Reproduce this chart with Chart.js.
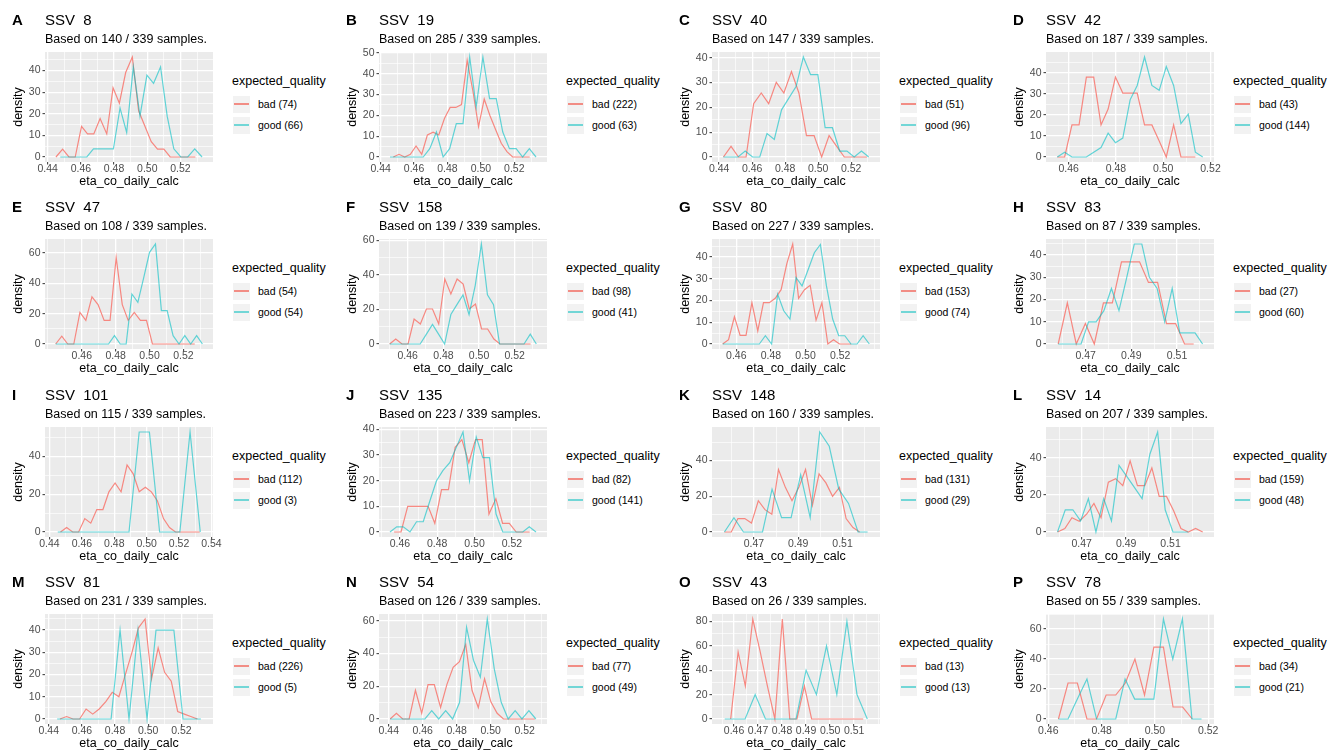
<!DOCTYPE html>
<html><head><meta charset="utf-8">
<script src="https://cdn.jsdelivr.net/npm/chart.js@4.4.1/dist/chart.umd.min.js"></script>
<style>
html,body{margin:0;padding:0;background:#fff;}
#root{position:relative;width:1328px;height:750px;overflow:hidden;font-family:'Liberation Sans',Arial,Helvetica,sans-serif;color:#000;}
.t{position:absolute;white-space:pre;line-height:1;}
canvas{position:absolute;}
.key{position:absolute;background:#F2F2F2;}
.kl{position:absolute;height:1.5px;}
</style></head><body><div id="root"></div>
<script>
// ---------- panel meta ----------
const tags = ['A','B','C','D','E','F','G','H','I','J','K','L','M','N','O','P'];
const ssvIds = ['8','19','40','42','47','158','80','83','101','135','148','14','81','54','43','78'];
const sampleCounts = [140,285,147,187,108,139,227,87,115,223,160,207,231,126,26,55];
const totalSamples = 339;
const badCounts = [74,222,51,43,54,98,153,27,112,82,131,159,226,77,13,34];
const goodCounts = [66,63,96,144,54,41,74,60,3,141,29,48,5,49,13,21];

// ---------- tick labels ----------
const xTicksA=[0.44,0.46,0.48,0.50,0.52], yTicksA=[0,10,20,30,40];
const xTicksB=[0.44,0.46,0.48,0.50,0.52], yTicksB=[0,10,20,30,40,50];
const xTicksC=[0.44,0.46,0.48,0.50,0.52], yTicksC=[0,10,20,30,40];
const xTicksD=[0.46,0.48,0.50,0.52], yTicksD=[0,10,20,30,40];
const xTicksE=[0.46,0.48,0.50,0.52], yTicksE=[0,20,40,60];
const xTicksF=[0.46,0.48,0.50,0.52], yTicksF=[0,20,40,60];
const xTicksG=[0.46,0.48,0.50,0.52], yTicksG=[0,10,20,30,40];
const xTicksH=[0.47,0.49,0.51], yTicksH=[0,10,20,30,40];
const xTicksI=[0.44,0.46,0.48,0.50,0.52,0.54], yTicksI=[0,20,40];
const xTicksJ=[0.46,0.48,0.50,0.52], yTicksJ=[0,10,20,30,40];
const xTicksK=[0.47,0.49,0.51], yTicksK=[0,20,40];
const xTicksL=[0.47,0.49,0.51], yTicksL=[0,20,40];
const xTicksM=[0.44,0.46,0.48,0.50,0.52], yTicksM=[0,10,20,30,40];
const xTicksN=[0.44,0.46,0.48,0.50,0.52], yTicksN=[0,20,40,60];
const xTicksO=[0.46,0.47,0.48,0.49,0.50,0.51], yTicksO=[0,20,40,60,80];
const xTicksP=[0.46,0.48,0.50,0.52], yTicksP=[0,20,40,60];

// ---------- series (x = eta_co_daily_calc, y = density) ----------
const xBadA=[0.4450,0.4490,0.4528,0.4566,0.4604,0.4640,0.4678,0.4716,0.4756,0.4794,0.4832,0.4870,0.4910,0.4948,0.4986,0.5024,0.5062,0.5100,0.5138,0.5176,0.5214,0.5252,0.5290];
const badA=[0,3.6,0,0,14.2,10.7,10.7,17.8,10.7,32,24.9,39.1,46.3,21.4,14.2,7.1,3.6,3.6,0,0,0,0,0];
const xGoodA=[0.4476,0.4516,0.4556,0.4596,0.4636,0.4676,0.4716,0.4756,0.4796,0.4836,0.4876,0.4916,0.4956,0.4998,0.5038,0.5080,0.5120,0.5160,0.5202,0.5244,0.5286,0.5330];
const goodA=[0,0,0,0,0,3.8,3.8,3.8,3.8,22.7,11.4,41.7,18.9,37.9,34.1,41.7,18.9,3.8,0,0,3.8,0];

const xBadB=[0.4476,0.4510,0.4544,0.4578,0.4612,0.4646,0.4680,0.4714,0.4748,0.4782,0.4816,0.4850,0.4884,0.4918,0.4952,0.4986,0.5020,0.5054,0.5088,0.5122,0.5156,0.5190,0.5224,0.5258,0.5292];
const badB=[0,1.3,0,1.3,5.3,1.3,10.6,11.9,10.6,18.5,23.8,23.8,25.2,46.4,31.8,14.6,27.8,19.9,13.2,6.6,2.6,0,0,0,0];
const xGoodB=[0.4456,0.4496,0.4535,0.4575,0.4615,0.4655,0.4694,0.4734,0.4774,0.4813,0.4853,0.4893,0.4933,0.4972,0.5012,0.5052,0.5092,0.5131,0.5171,0.5211,0.5250,0.5290,0.5330];
const goodB=[0,0,0,0,0,0,4,12,0,4,16,16,48,24,48,28,28,12,4,4,0,4,0];

const xBadC=[0.4426,0.4472,0.4517,0.4563,0.4609,0.4655,0.4700,0.4746,0.4792,0.4838,0.4883,0.4929,0.4975,0.5021,0.5066,0.5112,0.5158,0.5204,0.5249,0.5295];
const badC=[0,4.3,0,0,21.5,25.8,21.5,30.1,25.8,34.4,25.8,8.6,8.6,0,8.6,4.3,0,0,0,0];
const xGoodC=[0.4426,0.4470,0.4514,0.4558,0.4602,0.4646,0.4690,0.4734,0.4778,0.4822,0.4866,0.4910,0.4954,0.4998,0.5042,0.5086,0.5130,0.5174,0.5218,0.5262,0.5306];
const goodC=[0,0,0,2.4,0,0,9.5,7.1,19,23.7,28.4,40.3,33.2,33.2,11.8,11.8,2.4,2.4,0,2.4,0];

const xBadD=[0.4552,0.4583,0.4614,0.4644,0.4675,0.4706,0.4737,0.4767,0.4798,0.4829,0.4860,0.4890,0.4921,0.4952,0.4983,0.5013,0.5044,0.5075,0.5106,0.5136];
const badD=[0,0,15.2,15.2,37.9,37.9,15.2,22.7,37.9,30.3,30.3,30.3,15.2,15.2,7.6,0,15.2,0,0,0];
const xGoodD=[0.4552,0.4583,0.4614,0.4644,0.4675,0.4706,0.4737,0.4767,0.4798,0.4829,0.4860,0.4890,0.4921,0.4952,0.4983,0.5013,0.5044,0.5075,0.5106,0.5136,0.5167];
const goodD=[0,2.3,0,0,0,2.3,4.5,11.3,6.8,9,27.1,33.9,47.4,33.9,31.6,42.9,33.9,15.8,20.3,2.3,0];

const xBadE=[0.4446,0.4482,0.4517,0.4553,0.4589,0.4624,0.4660,0.4696,0.4732,0.4767,0.4803,0.4839,0.4874,0.4910,0.4946,0.4982,0.5017,0.5053,0.5089,0.5124,0.5160,0.5196,0.5232,0.5267];
const badE=[0,5.2,0,0,20.8,15.6,31.1,26,15.6,15.6,57.1,26,15.6,20.8,15.6,15.6,0,0,0,0,0,0,0,0];
const xGoodE=[0.4446,0.4481,0.4515,0.4550,0.4585,0.4619,0.4654,0.4689,0.4723,0.4758,0.4793,0.4827,0.4862,0.4896,0.4931,0.4966,0.5000,0.5035,0.5070,0.5104,0.5139,0.5174,0.5208,0.5243,0.5278,0.5312];
const goodE=[0,0,0,0,0,0,0,0,0,0,5.5,0,0,33,27.5,44,60.5,66,22,22,5.5,0,5.5,0,5.5,0];

const xBadF=[0.4499,0.4533,0.4568,0.4602,0.4636,0.4671,0.4705,0.4739,0.4774,0.4808,0.4842,0.4877,0.4911,0.4945,0.4980,0.5014,0.5048,0.5083,0.5117,0.5151,0.5186,0.5220,0.5254,0.5289];
const badF=[0,2.9,0,0,14.5,11.6,20.3,20.3,11.6,37.7,29,37.7,34.8,20.3,23.2,8.7,8.7,2.9,0,0,0,0,0,0];
const xGoodF=[0.4499,0.4533,0.4568,0.4602,0.4636,0.4670,0.4705,0.4739,0.4773,0.4807,0.4842,0.4876,0.4910,0.4944,0.4979,0.5013,0.5047,0.5081,0.5115,0.5150,0.5184,0.5218,0.5252,0.5287,0.5321];
const goodF=[0,0,0,0,0,0,5.7,11.4,5.7,0,17.1,22.8,28.5,17.1,34.2,58,28.5,22.8,0,0,0,0,0,5.7,0];

const xBadG=[0.4521,0.4555,0.4589,0.4622,0.4656,0.4690,0.4724,0.4757,0.4791,0.4825,0.4859,0.4892,0.4926,0.4960,0.4994,0.5027,0.5061,0.5095,0.5129,0.5162,0.5196,0.5230,0.5264];
const badG=[0,2,12.5,4,4,19,6,19,19,21,25,37,46,21,25,27,11,19,0,2,0,0,0];
const xGoodG=[0.4521,0.4556,0.4592,0.4627,0.4662,0.4698,0.4733,0.4768,0.4804,0.4839,0.4874,0.4910,0.4945,0.4980,0.5016,0.5051,0.5086,0.5121,0.5157,0.5192,0.5227,0.5263,0.5298,0.5333,0.5369];
const goodG=[0,0,0,0,0,0,0,3.8,0,22.9,15.3,11.5,30.6,26.7,34.4,42,45.8,26.7,11.5,3.8,3.8,0,0,3.8,0];

const xBadH=[0.4580,0.4620,0.4659,0.4699,0.4738,0.4778,0.4817,0.4857,0.4896,0.4936,0.4975,0.5015,0.5054,0.5094,0.5133,0.5173];
const badH=[0,18.5,0,9.2,0,18.5,18.5,37,37,37,27.7,27.7,9.2,9.2,0,0];
const xGoodH=[0.4580,0.4613,0.4647,0.4680,0.4713,0.4746,0.4780,0.4813,0.4846,0.4880,0.4913,0.4946,0.4979,0.5013,0.5046,0.5079,0.5112,0.5146,0.5179,0.5212];
const goodH=[0,0,0,0,10,10,15,25,15,30,45,45,30,25,10,25,5,5,5,0];

const xBadI=[0.4468,0.4506,0.4543,0.4580,0.4618,0.4655,0.4692,0.4730,0.4767,0.4805,0.4842,0.4879,0.4917,0.4954,0.4992,0.5029,0.5066,0.5104,0.5141,0.5178,0.5216,0.5253,0.5291,0.5328];
const badI=[0,2.4,0,0,7.1,4.7,11.9,11.9,21.3,26,21.3,35.5,30.8,21.3,23.7,21.3,16.6,7.1,2.4,0,0,0,0,0];
const xGoodI=[0.4451,0.4514,0.4576,0.4639,0.4702,0.4765,0.4828,0.4891,0.4954,0.5017,0.5080,0.5142,0.5205,0.5268,0.5331];
const goodI=[0,0,0,0,0,0,0,0,53,53,0,0,0,53,0];

const xBadJ=[0.4569,0.4606,0.4642,0.4678,0.4715,0.4751,0.4787,0.4823,0.4860,0.4896,0.4932,0.4969,0.5005,0.5041,0.5077,0.5114,0.5150,0.5186,0.5223,0.5259,0.5295];
const badJ=[0,0,10,10,10,10,3.4,16.5,16.5,33,36,27,36,36,7,13,3.4,3.4,0,0,0];
const xGoodJ=[0.4547,0.4583,0.4618,0.4654,0.4689,0.4725,0.4760,0.4796,0.4831,0.4867,0.4902,0.4938,0.4973,0.5009,0.5044,0.5080,0.5115,0.5151,0.5187,0.5222,0.5258,0.5293,0.5329];
const goodJ=[0,2,2,0,4,4,12,20,24,27,33,39,20,37,29,29,7,0,0,0,0,2,0];

const xBadK=[0.4567,0.4598,0.4628,0.4659,0.4689,0.4720,0.4750,0.4781,0.4811,0.4842,0.4872,0.4903,0.4933,0.4964,0.4994,0.5025,0.5055,0.5086,0.5116,0.5147,0.5177];
const badK=[0,0,7.5,7.5,5,17.5,12.5,10,35,25,17.5,25,35,15,32.5,27.5,20,25,7.5,2.5,0];
const xGoodK=[0.4567,0.4610,0.4653,0.4696,0.4739,0.4782,0.4825,0.4868,0.4911,0.4954,0.4997,0.5040,0.5083,0.5127,0.5170,0.5213];
const goodK=[0,8,0,0,0,24,8,8,32,8,56,48,24,16,0,0];

const xBadL=[0.4591,0.4624,0.4656,0.4689,0.4722,0.4755,0.4787,0.4820,0.4853,0.4885,0.4918,0.4951,0.4984,0.5016,0.5049,0.5082,0.5114,0.5147,0.5180,0.5213,0.5245];
const badL=[0,1.9,7.7,5.8,9.6,15.4,7.7,26.9,28.8,25,38.4,25,25,34.6,19.2,19.2,11.5,1.9,0,1.9,0];
const xGoodL=[0.4591,0.4626,0.4660,0.4695,0.4730,0.4764,0.4799,0.4834,0.4868,0.4903,0.4938,0.4972,0.5007,0.5042,0.5076,0.5111,0.5146,0.5180];
const goodL=[0,12,12,6,18,0,18,6,36,30,24,18,42,54,12,0,0,0];

const xBadM=[0.4467,0.4507,0.4546,0.4586,0.4625,0.4665,0.4704,0.4744,0.4783,0.4823,0.4862,0.4902,0.4941,0.4981,0.5020,0.5060,0.5099,0.5139,0.5178,0.5218,0.5257,0.5297];
const badM=[0,1.1,0,0,4.5,2.2,4.5,7.8,12,10,20,30,41,45,18,32,21,17,3.4,2.2,1.1,0];
const xGoodM=[0.4450,0.4504,0.4559,0.4613,0.4667,0.4721,0.4776,0.4830,0.4884,0.4938,0.4993,0.5047,0.5101,0.5155,0.5210,0.5264,0.5318];
const goodM=[0,0,0,0,0,0,0,40,0,40,0,40,40,40,0,0,0];

const xBadN=[0.4408,0.4445,0.4482,0.4520,0.4557,0.4594,0.4631,0.4668,0.4705,0.4742,0.4779,0.4816,0.4853,0.4890,0.4927,0.4964,0.5001,0.5038,0.5075,0.5112,0.5149,0.5186,0.5223,0.5260];
const badN=[0,3.5,0,0,17.5,3.5,21,21,7,21,31.5,35,45.5,17.5,7,24.5,10.5,3.5,0,0,0,0,0,0];
const xGoodN=[0.4408,0.4449,0.4490,0.4531,0.4572,0.4613,0.4653,0.4694,0.4735,0.4776,0.4817,0.4858,0.4899,0.4939,0.4980,0.5021,0.5062,0.5103,0.5144,0.5184,0.5225,0.5266];
const goodN=[0,0,0,0,0,0,5.1,0,5.1,0,10.2,56,35.7,25.5,61,30.6,10.2,0,5.1,0,5.1,0];

const xBadO=[0.4586,0.4617,0.4647,0.4678,0.4709,0.4739,0.4770,0.4801,0.4832,0.4862,0.4893,0.4923,0.4954,0.4985,0.5016,0.5046,0.5077,0.5108,0.5138];
const badO=[0,55,27,82,55,27,0,82,0,0,27,0,0,0,0,0,0,0,0];
const xGoodO=[0.4561,0.4603,0.4646,0.4688,0.4731,0.4773,0.4815,0.4858,0.4900,0.4943,0.4985,0.5028,0.5070,0.5112,0.5155];
const goodO=[0,0,0,20,0,0,0,0,40,20,60,20,80,20,0];

const xBadP=[0.4638,0.4674,0.4709,0.4745,0.4781,0.4817,0.4853,0.4889,0.4925,0.4961,0.4996,0.5032,0.5068,0.5104,0.5140];
const badP=[0,24,24,0,0,16,16,24,40,16,48,48,8,8,0];
const xGoodP=[0.4638,0.4674,0.4709,0.4745,0.4781,0.4817,0.4853,0.4888,0.4924,0.4960,0.4996,0.5032,0.5067,0.5103,0.5139,0.5175];
const goodP=[0,0,13.3,26.7,0,0,0,26.7,13.3,13.3,13.3,66.7,40,66.7,0,0];

// ---------- assemble ----------
const xBadAll=[xBadA,xBadB,xBadC,xBadD,xBadE,xBadF,xBadG,xBadH,xBadI,xBadJ,xBadK,xBadL,xBadM,xBadN,xBadO,xBadP];
const badAll=[badA,badB,badC,badD,badE,badF,badG,badH,badI,badJ,badK,badL,badM,badN,badO,badP];
const xGoodAll=[xGoodA,xGoodB,xGoodC,xGoodD,xGoodE,xGoodF,xGoodG,xGoodH,xGoodI,xGoodJ,xGoodK,xGoodL,xGoodM,xGoodN,xGoodO,xGoodP];
const goodAll=[goodA,goodB,goodC,goodD,goodE,goodF,goodG,goodH,goodI,goodJ,goodK,goodL,goodM,goodN,goodO,goodP];
const xTicksAll=[xTicksA,xTicksB,xTicksC,xTicksD,xTicksE,xTicksF,xTicksG,xTicksH,xTicksI,xTicksJ,xTicksK,xTicksL,xTicksM,xTicksN,xTicksO,xTicksP];
const yTicksAll=[yTicksA,yTicksB,yTicksC,yTicksD,yTicksE,yTicksF,yTicksG,yTicksH,yTicksI,yTicksJ,yTicksK,yTicksL,yTicksM,yTicksN,yTicksO,yTicksP];

const BAD='rgba(248,118,109,0.85)', GOOD='rgba(0,191,196,0.6)', LW=1.2;
const BAD_KEY='#F28D85', GOOD_KEY='#72D6D6';
const FONT="'Liberation Sans', Arial, Helvetica, sans-serif";
Chart.defaults.font.family = FONT;

const colX=[0,334,667,1001];
const root=document.getElementById('root');

function addText(txt, left, top, size, extra){
  const d=document.createElement('div');
  d.className='t'; d.textContent=txt;
  d.style.left=left+'px'; d.style.top=top+'px'; d.style.fontSize=size+'px';
  if(extra) Object.assign(d.style, extra);
  root.appendChild(d); return d;
}

function buildTicks(majors, min, max){
  const step = majors[1]-majors[0];
  const ext=[majors[0]-step, ...majors, majors[majors.length-1]+step];
  const out=[];
  for(let i=0;i<ext.length;i++){
    out.push({value:ext[i], isMajor: i>0 && i<ext.length-1});
    if(i<ext.length-1) out.push({value:(ext[i]+ext[i+1])/2, isMajor:false});
  }
  return out.filter(t=>t.value>=min-1e-9 && t.value<=max+1e-9);
}

const bgPlugin={id:'panelBg', beforeDraw(chart){
  const {ctx, chartArea:a}=chart;
  ctx.save(); ctx.fillStyle='#EBEBEB';
  ctx.fillRect(a.left,a.top,a.right-a.left,a.bottom-a.top); ctx.restore();
}};

function gridOpts(){
  return {
    color:'#FFFFFF',
    lineWidth: c => (c.tick && c.tick.isMajor) ? 1.3 : 0.65,
    drawTicks:true, tickLength:2.5,
    tickColor: c => (c.tick && c.tick.isMajor) ? '#333333' : 'rgba(0,0,0,0)',
    tickWidth: c => (c.tick && c.tick.isMajor) ? 1 : 0
  };
}

for(let k=0;k<16;k++){
  const col=k%4, row=Math.floor(k/4);
  const ox=colX[col], oy=Math.floor(row*187.5);
  const xb=xBadAll[k], yb=badAll[k], xg=xGoodAll[k], yg=goodAll[k];

  // scale limits from the data (bin half-widths included, 5% expansion)
  const hb=(xb[1]-xb[0])/2, hg=(xg[1]-xg[0])/2;
  const lo=Math.min(xb[0]-hb, xg[0]-hg);
  const hi=Math.max(xb[xb.length-1]+hb, xg[xg.length-1]+hg);
  const xr=hi-lo, xmin=lo-0.05*xr, xmax=hi+0.05*xr;
  const ymaxD=Math.max(...yb,...yg), ymin=-0.05*ymaxD, ymax=1.05*ymaxD;

  const cv=document.createElement('canvas');
  cv.width=230; cv.height=188;
  cv.style.left=ox+'px'; cv.style.top=oy+'px';
  root.appendChild(cv);

  const xT=xTicksAll[k], yT=yTicksAll[k];
  new Chart(cv,{
    type:'line',
    data:{datasets:[
      {label:'good ('+goodCounts[k]+')', data:xg.map((x,i)=>({x:x,y:yg[i]})), borderColor:GOOD, backgroundColor:GOOD, borderWidth:LW, pointRadius:0, tension:0, fill:false},
      {label:'bad ('+badCounts[k]+')', data:xb.map((x,i)=>({x:x,y:yb[i]})), borderColor:BAD, backgroundColor:BAD, borderWidth:LW, pointRadius:0, tension:0, fill:false}
    ]},
    options:{
      responsive:false, animation:false, devicePixelRatio:1, events:[],
      layout:{padding:{top:52,right:17,bottom:0,left:0}},
      plugins:{legend:{display:false}, tooltip:{enabled:false}, title:{display:false}},
      scales:{
        x:{type:'linear', position:'bottom', min:xmin, max:xmax,
          afterBuildTicks:s=>{ s.ticks=buildTicks(xT,xmin,xmax); },
          afterFit:s=>{ s.height=26; s.paddingLeft=0; s.paddingRight=0; s.paddingTop=0; s.paddingBottom=0; },
          border:{display:false}, grid:gridOpts(),
          ticks:{autoSkip:false, maxRotation:0, minRotation:0, padding:-0.8, color:'#4D4D4D',
            font:{size:10.5, lineHeight:1},
            callback:(v,i,t)=> t[i].isMajor ? Number(v).toFixed(2) : ''},
          title:{display:true, text:'eta_co_daily_calc', color:'#000', font:{size:12.5, lineHeight:1}, padding:{top:0,bottom:0}}
        },
        y:{type:'linear', position:'left', min:ymin, max:ymax,
          afterBuildTicks:s=>{ s.ticks=buildTicks(yT,ymin,ymax); },
          afterFit:s=>{ s.width=45; s.paddingLeft=0; s.paddingRight=0; s.paddingTop=0; s.paddingBottom=0; },
          border:{display:false}, grid:gridOpts(),
          ticks:{autoSkip:false, padding:2, color:'#4D4D4D', font:{size:10.5, lineHeight:1},
            callback:(v,i,t)=> t[i].isMajor ? String(Math.round(v)) : ''},
          title:{display:true, text:'density', color:'#000', font:{size:12.5, lineHeight:1}, padding:{top:12,bottom:0}}
        }
      }
    },
    plugins:[bgPlugin]
  });

  // titles
  addText(tags[k], ox+12, oy+11.8, 15, {fontWeight:'bold'});
  addText('SSV  '+ssvIds[k], ox+45, oy+12, 15);
  addText('Based on '+sampleCounts[k]+' / '+totalSamples+' samples.', ox+45, oy+32.5, 12.5);

  // legend
  addText('expected_quality', ox+232, oy+75.4, 12.5);
  const keys=[{c:BAD_KEY,l:'bad ('+badCounts[k]+')',cy:104},{c:GOOD_KEY,l:'good ('+goodCounts[k]+')',cy:125}];
  keys.forEach(kk=>{
    const b=document.createElement('div'); b.className='key';
    b.style.left=(ox+232.5)+'px'; b.style.top=Math.round(oy+kk.cy-8.5)+'px';
    b.style.width='17.3px'; b.style.height='17px';
    root.appendChild(b);
    const ln=document.createElement('div'); ln.className='kl';
    ln.style.left=(ox+234)+'px'; ln.style.top=Math.round(oy+kk.cy-1)+'px';
    ln.style.width='14.5px'; ln.style.background=kk.c;
    root.appendChild(ln);
    addText(kk.l, ox+258, oy+kk.cy-5.2, 10.5);
  });
}
</script></body></html>
